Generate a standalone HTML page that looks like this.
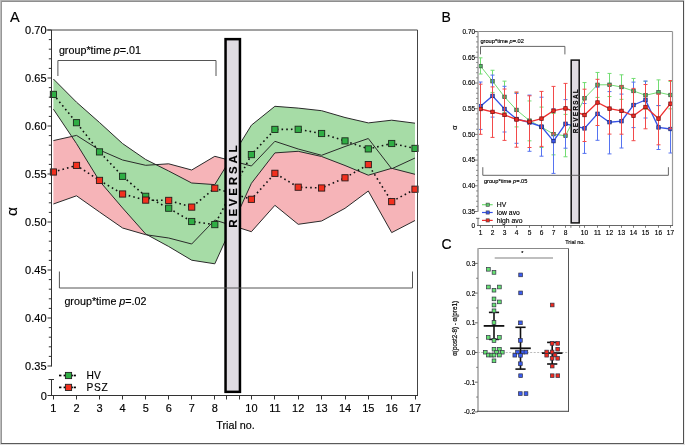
<!DOCTYPE html>
<html><head><meta charset="utf-8"><style>
html,body{margin:0;padding:0;background:#fff;width:685px;height:445px;overflow:hidden}
svg{display:block;filter:blur(0.3px)}
text{font-family:"Liberation Sans",sans-serif;stroke:#000;stroke-width:0.15px}
</style></head><body>
<svg width="685" height="445" viewBox="0 0 685 445">
<rect width="685" height="445" fill="#fff"/>
<polygon points="53.40,140.60 76.50,135.40 99.50,150.00 122.60,160.00 145.70,165.30 168.70,163.80 191.70,170.00 214.80,156.30 251.40,166.00 274.90,141.30 298.20,149.00 321.60,155.30 345.00,146.50 368.30,138.50 391.70,168.80 415.00,158.00 415.00,220.50 391.70,232.60 368.30,191.00 345.00,208.30 321.60,221.00 298.20,224.30 274.90,205.30 251.40,231.70 214.80,220.00 191.70,244.00 168.70,238.00 145.70,234.70 122.60,228.00 99.50,212.00 76.50,195.80 53.40,204.00" fill="#f6b4b8" stroke="none"/>
<polygon points="53.40,79.00 76.50,102.20 99.50,122.50 122.60,143.60 145.70,159.50 168.70,171.00 191.70,183.00 214.80,184.60 251.40,125.20 274.90,106.30 298.20,108.10 321.60,110.70 345.00,117.50 368.30,122.90 391.70,120.20 415.00,123.20 415.00,174.30 391.70,168.30 368.30,175.20 345.00,165.50 321.60,156.50 298.20,151.30 274.90,152.90 251.40,183.30 214.80,263.80 191.70,260.20 168.70,246.50 145.70,234.00 122.60,208.00 99.50,181.00 76.50,143.60 53.40,109.20" fill="#a6dca6" stroke="none"/>
<polyline points="53.40,140.60 76.50,135.40 99.50,150.00 122.60,160.00 145.70,165.30 168.70,163.80 191.70,170.00 214.80,156.30 251.40,166.00 274.90,141.30 298.20,149.00 321.60,155.30 345.00,146.50 368.30,138.50 391.70,168.80 415.00,158.00" fill="none" stroke="#2a2a2a" stroke-width="1"/>
<polyline points="53.40,204.00 76.50,195.80 99.50,212.00 122.60,228.00 145.70,234.70 168.70,238.00 191.70,244.00 214.80,220.00 251.40,231.70 274.90,205.30 298.20,224.30 321.60,221.00 345.00,208.30 368.30,191.00 391.70,232.60 415.00,220.50" fill="none" stroke="#2a2a2a" stroke-width="1"/>
<polyline points="53.40,79.00 76.50,102.20 99.50,122.50 122.60,143.60 145.70,159.50 168.70,171.00 191.70,183.00 214.80,184.60 251.40,125.20 274.90,106.30 298.20,108.10 321.60,110.70 345.00,117.50 368.30,122.90 391.70,120.20 415.00,123.20" fill="none" stroke="#2a2a2a" stroke-width="1"/>
<polyline points="53.40,109.20 76.50,143.60 99.50,181.00 122.60,208.00 145.70,234.00 168.70,246.50 191.70,260.20 214.80,263.80 251.40,183.30 274.90,152.90 298.20,151.30 321.60,156.50 345.00,165.50 368.30,175.20 391.70,168.30 415.00,174.30" fill="none" stroke="#2a2a2a" stroke-width="1"/>
<polyline points="53.40,94.40 76.50,122.70 99.50,151.90 122.60,176.30 145.70,196.30 168.70,208.20 191.70,221.50 214.80,224.60 251.40,154.60 274.90,129.40 298.20,129.30 321.60,133.50 345.00,140.90 368.30,148.90 391.70,143.50 415.00,148.40" fill="none" stroke="#111" stroke-width="1.6" stroke-dasharray="1.6 3.1"/>
<polyline points="53.40,172.00 76.50,165.40 99.50,180.40 122.60,194.00 145.70,200.10 168.70,200.40 191.70,207.10 214.80,188.20 251.40,199.30 274.90,173.30 298.20,187.20 321.60,188.00 345.00,177.80 368.30,164.60 391.70,201.60 415.00,189.20" fill="none" stroke="#111" stroke-width="1.6" stroke-dasharray="1.6 3.1"/>
<rect x="50.30" y="91.30" width="6.2" height="6.2" fill="#2fae44" stroke="#1c2a1c" stroke-width="0.9"/>
<rect x="73.40" y="119.60" width="6.2" height="6.2" fill="#2fae44" stroke="#1c2a1c" stroke-width="0.9"/>
<rect x="96.40" y="148.80" width="6.2" height="6.2" fill="#2fae44" stroke="#1c2a1c" stroke-width="0.9"/>
<rect x="119.50" y="173.20" width="6.2" height="6.2" fill="#2fae44" stroke="#1c2a1c" stroke-width="0.9"/>
<rect x="142.60" y="193.20" width="6.2" height="6.2" fill="#2fae44" stroke="#1c2a1c" stroke-width="0.9"/>
<rect x="165.60" y="205.10" width="6.2" height="6.2" fill="#2fae44" stroke="#1c2a1c" stroke-width="0.9"/>
<rect x="188.60" y="218.40" width="6.2" height="6.2" fill="#2fae44" stroke="#1c2a1c" stroke-width="0.9"/>
<rect x="211.70" y="221.50" width="6.2" height="6.2" fill="#2fae44" stroke="#1c2a1c" stroke-width="0.9"/>
<rect x="248.30" y="151.50" width="6.2" height="6.2" fill="#2fae44" stroke="#1c2a1c" stroke-width="0.9"/>
<rect x="271.80" y="126.30" width="6.2" height="6.2" fill="#2fae44" stroke="#1c2a1c" stroke-width="0.9"/>
<rect x="295.10" y="126.20" width="6.2" height="6.2" fill="#2fae44" stroke="#1c2a1c" stroke-width="0.9"/>
<rect x="318.50" y="130.40" width="6.2" height="6.2" fill="#2fae44" stroke="#1c2a1c" stroke-width="0.9"/>
<rect x="341.90" y="137.80" width="6.2" height="6.2" fill="#2fae44" stroke="#1c2a1c" stroke-width="0.9"/>
<rect x="365.20" y="145.80" width="6.2" height="6.2" fill="#2fae44" stroke="#1c2a1c" stroke-width="0.9"/>
<rect x="388.60" y="140.40" width="6.2" height="6.2" fill="#2fae44" stroke="#1c2a1c" stroke-width="0.9"/>
<rect x="411.90" y="145.30" width="6.2" height="6.2" fill="#2fae44" stroke="#1c2a1c" stroke-width="0.9"/>
<rect x="50.30" y="168.90" width="6.2" height="6.2" fill="#f2301e" stroke="#2a1a1a" stroke-width="0.9"/>
<rect x="73.40" y="162.30" width="6.2" height="6.2" fill="#f2301e" stroke="#2a1a1a" stroke-width="0.9"/>
<rect x="96.40" y="177.30" width="6.2" height="6.2" fill="#f2301e" stroke="#2a1a1a" stroke-width="0.9"/>
<rect x="119.50" y="190.90" width="6.2" height="6.2" fill="#f2301e" stroke="#2a1a1a" stroke-width="0.9"/>
<rect x="142.60" y="197.00" width="6.2" height="6.2" fill="#f2301e" stroke="#2a1a1a" stroke-width="0.9"/>
<rect x="165.60" y="197.30" width="6.2" height="6.2" fill="#f2301e" stroke="#2a1a1a" stroke-width="0.9"/>
<rect x="188.60" y="204.00" width="6.2" height="6.2" fill="#f2301e" stroke="#2a1a1a" stroke-width="0.9"/>
<rect x="211.70" y="185.10" width="6.2" height="6.2" fill="#f2301e" stroke="#2a1a1a" stroke-width="0.9"/>
<rect x="248.30" y="196.20" width="6.2" height="6.2" fill="#f2301e" stroke="#2a1a1a" stroke-width="0.9"/>
<rect x="271.80" y="170.20" width="6.2" height="6.2" fill="#f2301e" stroke="#2a1a1a" stroke-width="0.9"/>
<rect x="295.10" y="184.10" width="6.2" height="6.2" fill="#f2301e" stroke="#2a1a1a" stroke-width="0.9"/>
<rect x="318.50" y="184.90" width="6.2" height="6.2" fill="#f2301e" stroke="#2a1a1a" stroke-width="0.9"/>
<rect x="341.90" y="174.70" width="6.2" height="6.2" fill="#f2301e" stroke="#2a1a1a" stroke-width="0.9"/>
<rect x="365.20" y="161.50" width="6.2" height="6.2" fill="#f2301e" stroke="#2a1a1a" stroke-width="0.9"/>
<rect x="388.60" y="198.50" width="6.2" height="6.2" fill="#f2301e" stroke="#2a1a1a" stroke-width="0.9"/>
<rect x="411.90" y="186.10" width="6.2" height="6.2" fill="#f2301e" stroke="#2a1a1a" stroke-width="0.9"/>
<rect x="225.55" y="39.15" width="14.4" height="352.7" fill="#e0dce2" stroke="#000" stroke-width="2.5"/>
<text font-family="Liberation Sans, sans-serif" font-size="11.5" font-weight="bold" letter-spacing="2.8" stroke="none" transform="translate(237.4,185.2) rotate(-90)" text-anchor="middle">REVERSAL</text>
<line x1="46.5" y1="30" x2="417.5" y2="30" stroke="#444" stroke-width="1"/>
<line x1="417.5" y1="30" x2="417.5" y2="396" stroke="#444" stroke-width="1"/>
<line x1="51.5" y1="30" x2="51.5" y2="366.5" stroke="#333" stroke-width="1"/>
<line x1="51.5" y1="379" x2="51.5" y2="396" stroke="#333" stroke-width="1"/>
<line x1="48.5" y1="379.5" x2="54" y2="379.5" stroke="#333" stroke-width="1"/>
<line x1="51" y1="395.5" x2="418" y2="395.5" stroke="#333" stroke-width="1"/>
<line x1="47.5" y1="30.00" x2="51.5" y2="30.00" stroke="#333" stroke-width="1"/>
<text transform="translate(46.5,33.90) scale(1,1.07)" font-family="Liberation Sans, sans-serif" font-size="11" text-anchor="end" fill="#000">0.70</text>
<line x1="48.8" y1="39.60" x2="51.5" y2="39.60" stroke="#333" stroke-width="1"/>
<line x1="48.8" y1="49.20" x2="51.5" y2="49.20" stroke="#333" stroke-width="1"/>
<line x1="48.8" y1="58.80" x2="51.5" y2="58.80" stroke="#333" stroke-width="1"/>
<line x1="48.8" y1="68.40" x2="51.5" y2="68.40" stroke="#333" stroke-width="1"/>
<line x1="47.5" y1="78.00" x2="51.5" y2="78.00" stroke="#333" stroke-width="1"/>
<text transform="translate(46.5,81.90) scale(1,1.07)" font-family="Liberation Sans, sans-serif" font-size="11" text-anchor="end" fill="#000">0.65</text>
<line x1="48.8" y1="87.60" x2="51.5" y2="87.60" stroke="#333" stroke-width="1"/>
<line x1="48.8" y1="97.20" x2="51.5" y2="97.20" stroke="#333" stroke-width="1"/>
<line x1="48.8" y1="106.80" x2="51.5" y2="106.80" stroke="#333" stroke-width="1"/>
<line x1="48.8" y1="116.40" x2="51.5" y2="116.40" stroke="#333" stroke-width="1"/>
<line x1="47.5" y1="126.00" x2="51.5" y2="126.00" stroke="#333" stroke-width="1"/>
<text transform="translate(46.5,129.90) scale(1,1.07)" font-family="Liberation Sans, sans-serif" font-size="11" text-anchor="end" fill="#000">0.60</text>
<line x1="48.8" y1="135.60" x2="51.5" y2="135.60" stroke="#333" stroke-width="1"/>
<line x1="48.8" y1="145.20" x2="51.5" y2="145.20" stroke="#333" stroke-width="1"/>
<line x1="48.8" y1="154.80" x2="51.5" y2="154.80" stroke="#333" stroke-width="1"/>
<line x1="48.8" y1="164.40" x2="51.5" y2="164.40" stroke="#333" stroke-width="1"/>
<line x1="47.5" y1="174.00" x2="51.5" y2="174.00" stroke="#333" stroke-width="1"/>
<text transform="translate(46.5,177.90) scale(1,1.07)" font-family="Liberation Sans, sans-serif" font-size="11" text-anchor="end" fill="#000">0.55</text>
<line x1="48.8" y1="183.60" x2="51.5" y2="183.60" stroke="#333" stroke-width="1"/>
<line x1="48.8" y1="193.20" x2="51.5" y2="193.20" stroke="#333" stroke-width="1"/>
<line x1="48.8" y1="202.80" x2="51.5" y2="202.80" stroke="#333" stroke-width="1"/>
<line x1="48.8" y1="212.40" x2="51.5" y2="212.40" stroke="#333" stroke-width="1"/>
<line x1="47.5" y1="222.00" x2="51.5" y2="222.00" stroke="#333" stroke-width="1"/>
<text transform="translate(46.5,225.90) scale(1,1.07)" font-family="Liberation Sans, sans-serif" font-size="11" text-anchor="end" fill="#000">0.50</text>
<line x1="48.8" y1="231.60" x2="51.5" y2="231.60" stroke="#333" stroke-width="1"/>
<line x1="48.8" y1="241.20" x2="51.5" y2="241.20" stroke="#333" stroke-width="1"/>
<line x1="48.8" y1="250.80" x2="51.5" y2="250.80" stroke="#333" stroke-width="1"/>
<line x1="48.8" y1="260.40" x2="51.5" y2="260.40" stroke="#333" stroke-width="1"/>
<line x1="47.5" y1="270.00" x2="51.5" y2="270.00" stroke="#333" stroke-width="1"/>
<text transform="translate(46.5,273.90) scale(1,1.07)" font-family="Liberation Sans, sans-serif" font-size="11" text-anchor="end" fill="#000">0.45</text>
<line x1="48.8" y1="279.60" x2="51.5" y2="279.60" stroke="#333" stroke-width="1"/>
<line x1="48.8" y1="289.20" x2="51.5" y2="289.20" stroke="#333" stroke-width="1"/>
<line x1="48.8" y1="298.80" x2="51.5" y2="298.80" stroke="#333" stroke-width="1"/>
<line x1="48.8" y1="308.40" x2="51.5" y2="308.40" stroke="#333" stroke-width="1"/>
<line x1="47.5" y1="318.00" x2="51.5" y2="318.00" stroke="#333" stroke-width="1"/>
<text transform="translate(46.5,321.90) scale(1,1.07)" font-family="Liberation Sans, sans-serif" font-size="11" text-anchor="end" fill="#000">0.40</text>
<line x1="48.8" y1="327.60" x2="51.5" y2="327.60" stroke="#333" stroke-width="1"/>
<line x1="48.8" y1="337.20" x2="51.5" y2="337.20" stroke="#333" stroke-width="1"/>
<line x1="48.8" y1="346.80" x2="51.5" y2="346.80" stroke="#333" stroke-width="1"/>
<line x1="48.8" y1="356.40" x2="51.5" y2="356.40" stroke="#333" stroke-width="1"/>
<line x1="47.5" y1="366.00" x2="51.5" y2="366.00" stroke="#333" stroke-width="1"/>
<text transform="translate(46.5,369.90) scale(1,1.07)" font-family="Liberation Sans, sans-serif" font-size="11" text-anchor="end" fill="#000">0.35</text>
<text transform="translate(46.8,399.90) scale(1,1.07)" font-family="Liberation Sans, sans-serif" font-size="11" text-anchor="end" fill="#000">0</text>
<line x1="47.5" y1="395.5" x2="51.5" y2="395.5" stroke="#333" stroke-width="1"/>
<line x1="53.50" y1="395.5" x2="53.50" y2="399.5" stroke="#333" stroke-width="1"/>
<text transform="translate(53.40,411.6) scale(1,1.07)" font-family="Liberation Sans, sans-serif" font-size="11" text-anchor="middle" fill="#000">1</text>
<line x1="76.50" y1="395.5" x2="76.50" y2="399.5" stroke="#333" stroke-width="1"/>
<text transform="translate(76.50,411.6) scale(1,1.07)" font-family="Liberation Sans, sans-serif" font-size="11" text-anchor="middle" fill="#000">2</text>
<line x1="99.50" y1="395.5" x2="99.50" y2="399.5" stroke="#333" stroke-width="1"/>
<text transform="translate(99.50,411.6) scale(1,1.07)" font-family="Liberation Sans, sans-serif" font-size="11" text-anchor="middle" fill="#000">3</text>
<line x1="122.50" y1="395.5" x2="122.50" y2="399.5" stroke="#333" stroke-width="1"/>
<text transform="translate(122.60,411.6) scale(1,1.07)" font-family="Liberation Sans, sans-serif" font-size="11" text-anchor="middle" fill="#000">4</text>
<line x1="145.50" y1="395.5" x2="145.50" y2="399.5" stroke="#333" stroke-width="1"/>
<text transform="translate(145.70,411.6) scale(1,1.07)" font-family="Liberation Sans, sans-serif" font-size="11" text-anchor="middle" fill="#000">5</text>
<line x1="168.50" y1="395.5" x2="168.50" y2="399.5" stroke="#333" stroke-width="1"/>
<text transform="translate(168.70,411.6) scale(1,1.07)" font-family="Liberation Sans, sans-serif" font-size="11" text-anchor="middle" fill="#000">6</text>
<line x1="191.50" y1="395.5" x2="191.50" y2="399.5" stroke="#333" stroke-width="1"/>
<text transform="translate(191.70,411.6) scale(1,1.07)" font-family="Liberation Sans, sans-serif" font-size="11" text-anchor="middle" fill="#000">7</text>
<line x1="214.50" y1="395.5" x2="214.50" y2="399.5" stroke="#333" stroke-width="1"/>
<text transform="translate(214.80,411.6) scale(1,1.07)" font-family="Liberation Sans, sans-serif" font-size="11" text-anchor="middle" fill="#000">8</text>
<line x1="251.50" y1="395.5" x2="251.50" y2="399.5" stroke="#333" stroke-width="1"/>
<text transform="translate(251.40,411.6) scale(1,1.07)" font-family="Liberation Sans, sans-serif" font-size="11" text-anchor="middle" fill="#000">10</text>
<line x1="274.50" y1="395.5" x2="274.50" y2="399.5" stroke="#333" stroke-width="1"/>
<text transform="translate(274.90,411.6) scale(1,1.07)" font-family="Liberation Sans, sans-serif" font-size="11" text-anchor="middle" fill="#000">11</text>
<line x1="298.50" y1="395.5" x2="298.50" y2="399.5" stroke="#333" stroke-width="1"/>
<text transform="translate(298.20,411.6) scale(1,1.07)" font-family="Liberation Sans, sans-serif" font-size="11" text-anchor="middle" fill="#000">12</text>
<line x1="321.50" y1="395.5" x2="321.50" y2="399.5" stroke="#333" stroke-width="1"/>
<text transform="translate(321.60,411.6) scale(1,1.07)" font-family="Liberation Sans, sans-serif" font-size="11" text-anchor="middle" fill="#000">13</text>
<line x1="345.50" y1="395.5" x2="345.50" y2="399.5" stroke="#333" stroke-width="1"/>
<text transform="translate(345.00,411.6) scale(1,1.07)" font-family="Liberation Sans, sans-serif" font-size="11" text-anchor="middle" fill="#000">14</text>
<line x1="368.50" y1="395.5" x2="368.50" y2="399.5" stroke="#333" stroke-width="1"/>
<text transform="translate(368.30,411.6) scale(1,1.07)" font-family="Liberation Sans, sans-serif" font-size="11" text-anchor="middle" fill="#000">15</text>
<line x1="391.50" y1="395.5" x2="391.50" y2="399.5" stroke="#333" stroke-width="1"/>
<text transform="translate(391.70,411.6) scale(1,1.07)" font-family="Liberation Sans, sans-serif" font-size="11" text-anchor="middle" fill="#000">16</text>
<line x1="415.50" y1="395.5" x2="415.50" y2="399.5" stroke="#333" stroke-width="1"/>
<text transform="translate(415.00,411.6) scale(1,1.07)" font-family="Liberation Sans, sans-serif" font-size="11" text-anchor="middle" fill="#000">17</text>
<line x1="226.5" y1="395.5" x2="226.5" y2="399.5" stroke="#333" stroke-width="1"/>
<line x1="239.5" y1="395.5" x2="239.5" y2="399.5" stroke="#333" stroke-width="1"/>
<text transform="translate(216.2,428.8) scale(1,1.07)" font-family="Liberation Sans, sans-serif" font-size="10.8" fill="#000">Trial no.</text>
<text font-family="Liberation Sans, sans-serif" font-size="15.5" transform="translate(17.4,211.4) rotate(-90)" text-anchor="middle" fill="#000">α</text>
<text transform="translate(9.9,22.3) scale(1,1.07)" font-family="Liberation Sans, sans-serif" font-size="14.5" fill="#000">A</text>
<polyline points="57.9,76 57.9,60.5 216,60.5 216,76" fill="none" stroke="#555" stroke-width="1"/>
<text transform="translate(58.9,53.7) scale(1,1.07)" font-family="Liberation Sans, sans-serif" font-size="10.75" fill="#000">group*time <tspan font-style="italic">p</tspan>=.01</text>
<polyline points="59.4,271.5 59.4,288 412.5,288 412.5,271.5" fill="none" stroke="#555" stroke-width="1"/>
<text transform="translate(64.4,305.1) scale(1,1.07)" font-family="Liberation Sans, sans-serif" font-size="10.75" fill="#000">group*time <tspan font-style="italic">p</tspan>=.02</text>
<rect x="59" y="374.65" width="2.40" height="1.7" fill="#000"/>
<rect x="63.6" y="374.65" width="1.90" height="1.7" fill="#000"/>
<rect x="71.5" y="374.65" width="1.40" height="1.7" fill="#000"/>
<rect x="73.7" y="374.65" width="2.20" height="1.7" fill="#000"/>
<rect x="65.40" y="372.40" width="6.2" height="6.2" fill="#2fae44" stroke="#222" stroke-width="0.9"/>
<text transform="translate(86.6,379.00) scale(1,1.07)" font-family="Liberation Sans, sans-serif" font-size="10.2" fill="#000">HV</text>
<rect x="59" y="386.55" width="2.40" height="1.7" fill="#000"/>
<rect x="63.6" y="386.55" width="1.90" height="1.7" fill="#000"/>
<rect x="71.5" y="386.55" width="1.40" height="1.7" fill="#000"/>
<rect x="73.7" y="386.55" width="2.20" height="1.7" fill="#000"/>
<rect x="65.40" y="384.30" width="6.2" height="6.2" fill="#f2301e" stroke="#222" stroke-width="0.9"/>
<text transform="translate(86.6,390.90) scale(1,1.07)" font-family="Liberation Sans, sans-serif" font-size="10.2" letter-spacing="0.7" fill="#000">PSZ</text>
<line x1="480.50" y1="57.84" x2="480.50" y2="74.00" stroke="#72dc72" stroke-width="1"/>
<line x1="478.50" y1="57.84" x2="482.50" y2="57.84" stroke="#72dc72" stroke-width="1"/>
<line x1="478.50" y1="74.00" x2="482.50" y2="74.00" stroke="#72dc72" stroke-width="1"/>
<line x1="492.50" y1="70.26" x2="492.50" y2="92.42" stroke="#72dc72" stroke-width="1"/>
<line x1="490.50" y1="70.26" x2="494.50" y2="70.26" stroke="#72dc72" stroke-width="1"/>
<line x1="490.50" y1="92.42" x2="494.50" y2="92.42" stroke="#72dc72" stroke-width="1"/>
<line x1="504.50" y1="81.13" x2="504.50" y2="112.45" stroke="#72dc72" stroke-width="1"/>
<line x1="502.50" y1="81.13" x2="506.50" y2="81.13" stroke="#72dc72" stroke-width="1"/>
<line x1="502.50" y1="112.45" x2="506.50" y2="112.45" stroke="#72dc72" stroke-width="1"/>
<line x1="516.50" y1="92.42" x2="516.50" y2="126.90" stroke="#72dc72" stroke-width="1"/>
<line x1="514.50" y1="92.42" x2="518.50" y2="92.42" stroke="#72dc72" stroke-width="1"/>
<line x1="514.50" y1="126.90" x2="518.50" y2="126.90" stroke="#72dc72" stroke-width="1"/>
<line x1="529.50" y1="100.94" x2="529.50" y2="140.82" stroke="#72dc72" stroke-width="1"/>
<line x1="527.50" y1="100.94" x2="531.50" y2="100.94" stroke="#72dc72" stroke-width="1"/>
<line x1="527.50" y1="140.82" x2="531.50" y2="140.82" stroke="#72dc72" stroke-width="1"/>
<line x1="541.50" y1="107.09" x2="541.50" y2="147.52" stroke="#72dc72" stroke-width="1"/>
<line x1="539.50" y1="107.09" x2="543.50" y2="107.09" stroke="#72dc72" stroke-width="1"/>
<line x1="539.50" y1="147.52" x2="543.50" y2="147.52" stroke="#72dc72" stroke-width="1"/>
<line x1="553.50" y1="113.52" x2="553.50" y2="154.85" stroke="#72dc72" stroke-width="1"/>
<line x1="551.50" y1="113.52" x2="555.50" y2="113.52" stroke="#72dc72" stroke-width="1"/>
<line x1="551.50" y1="154.85" x2="555.50" y2="154.85" stroke="#72dc72" stroke-width="1"/>
<line x1="565.50" y1="114.38" x2="565.50" y2="156.78" stroke="#72dc72" stroke-width="1"/>
<line x1="563.50" y1="114.38" x2="567.50" y2="114.38" stroke="#72dc72" stroke-width="1"/>
<line x1="563.50" y1="156.78" x2="567.50" y2="156.78" stroke="#72dc72" stroke-width="1"/>
<line x1="584.50" y1="82.57" x2="584.50" y2="113.68" stroke="#72dc72" stroke-width="1"/>
<line x1="582.50" y1="82.57" x2="586.50" y2="82.57" stroke="#72dc72" stroke-width="1"/>
<line x1="582.50" y1="113.68" x2="586.50" y2="113.68" stroke="#72dc72" stroke-width="1"/>
<line x1="597.50" y1="72.45" x2="597.50" y2="97.40" stroke="#72dc72" stroke-width="1"/>
<line x1="595.50" y1="72.45" x2="599.50" y2="72.45" stroke="#72dc72" stroke-width="1"/>
<line x1="595.50" y1="97.40" x2="599.50" y2="97.40" stroke="#72dc72" stroke-width="1"/>
<line x1="609.50" y1="73.42" x2="609.50" y2="96.55" stroke="#72dc72" stroke-width="1"/>
<line x1="607.50" y1="73.42" x2="611.50" y2="73.42" stroke="#72dc72" stroke-width="1"/>
<line x1="607.50" y1="96.55" x2="611.50" y2="96.55" stroke="#72dc72" stroke-width="1"/>
<line x1="621.50" y1="74.81" x2="621.50" y2="99.33" stroke="#72dc72" stroke-width="1"/>
<line x1="619.50" y1="74.81" x2="623.50" y2="74.81" stroke="#72dc72" stroke-width="1"/>
<line x1="619.50" y1="99.33" x2="623.50" y2="99.33" stroke="#72dc72" stroke-width="1"/>
<line x1="633.50" y1="78.45" x2="633.50" y2="104.15" stroke="#72dc72" stroke-width="1"/>
<line x1="631.50" y1="78.45" x2="635.50" y2="78.45" stroke="#72dc72" stroke-width="1"/>
<line x1="631.50" y1="104.15" x2="635.50" y2="104.15" stroke="#72dc72" stroke-width="1"/>
<line x1="645.50" y1="81.34" x2="645.50" y2="109.34" stroke="#72dc72" stroke-width="1"/>
<line x1="643.50" y1="81.34" x2="647.50" y2="81.34" stroke="#72dc72" stroke-width="1"/>
<line x1="643.50" y1="109.34" x2="647.50" y2="109.34" stroke="#72dc72" stroke-width="1"/>
<line x1="658.50" y1="79.89" x2="658.50" y2="105.65" stroke="#72dc72" stroke-width="1"/>
<line x1="656.50" y1="79.89" x2="660.50" y2="79.89" stroke="#72dc72" stroke-width="1"/>
<line x1="656.50" y1="105.65" x2="660.50" y2="105.65" stroke="#72dc72" stroke-width="1"/>
<line x1="670.50" y1="81.50" x2="670.50" y2="108.86" stroke="#72dc72" stroke-width="1"/>
<line x1="668.50" y1="81.50" x2="672.50" y2="81.50" stroke="#72dc72" stroke-width="1"/>
<line x1="668.50" y1="108.86" x2="672.50" y2="108.86" stroke="#72dc72" stroke-width="1"/>
<polyline points="480.50,66.08 492.50,81.23 504.50,96.87 516.50,109.93 529.50,120.64 541.50,127.01 553.50,134.13 565.50,135.79" fill="none" stroke="#72dc72" stroke-width="1"/>
<polyline points="565.50,135.79 584.50,98.31" fill="none" stroke="#72dc72" stroke-width="1"/>
<polyline points="584.50,98.31 597.50,84.82 609.50,84.77 621.50,87.02 633.50,90.98 645.50,95.26 658.50,92.37 670.50,94.99" fill="none" stroke="#72dc72" stroke-width="1"/>
<rect x="478.75" y="64.33" width="3.5" height="3.5" fill="#52b862" stroke="#3a4a3e" stroke-width="0.7"/>
<rect x="490.75" y="79.48" width="3.5" height="3.5" fill="#52b862" stroke="#3a4a3e" stroke-width="0.7"/>
<rect x="502.75" y="95.12" width="3.5" height="3.5" fill="#52b862" stroke="#3a4a3e" stroke-width="0.7"/>
<rect x="514.75" y="108.18" width="3.5" height="3.5" fill="#52b862" stroke="#3a4a3e" stroke-width="0.7"/>
<rect x="527.75" y="118.89" width="3.5" height="3.5" fill="#52b862" stroke="#3a4a3e" stroke-width="0.7"/>
<rect x="539.75" y="125.26" width="3.5" height="3.5" fill="#52b862" stroke="#3a4a3e" stroke-width="0.7"/>
<rect x="551.75" y="132.38" width="3.5" height="3.5" fill="#52b862" stroke="#3a4a3e" stroke-width="0.7"/>
<rect x="563.75" y="134.04" width="3.5" height="3.5" fill="#52b862" stroke="#3a4a3e" stroke-width="0.7"/>
<rect x="582.75" y="96.56" width="3.5" height="3.5" fill="#52b862" stroke="#3a4a3e" stroke-width="0.7"/>
<rect x="595.75" y="83.07" width="3.5" height="3.5" fill="#52b862" stroke="#3a4a3e" stroke-width="0.7"/>
<rect x="607.75" y="83.02" width="3.5" height="3.5" fill="#52b862" stroke="#3a4a3e" stroke-width="0.7"/>
<rect x="619.75" y="85.27" width="3.5" height="3.5" fill="#52b862" stroke="#3a4a3e" stroke-width="0.7"/>
<rect x="631.75" y="89.23" width="3.5" height="3.5" fill="#52b862" stroke="#3a4a3e" stroke-width="0.7"/>
<rect x="643.75" y="93.51" width="3.5" height="3.5" fill="#52b862" stroke="#3a4a3e" stroke-width="0.7"/>
<rect x="656.75" y="90.62" width="3.5" height="3.5" fill="#52b862" stroke="#3a4a3e" stroke-width="0.7"/>
<rect x="668.75" y="93.24" width="3.5" height="3.5" fill="#52b862" stroke="#3a4a3e" stroke-width="0.7"/>
<line x1="480.50" y1="82.00" x2="480.50" y2="129.40" stroke="#5673f0" stroke-width="1"/>
<line x1="478.50" y1="82.00" x2="482.50" y2="82.00" stroke="#5673f0" stroke-width="1"/>
<line x1="478.50" y1="129.40" x2="482.50" y2="129.40" stroke="#5673f0" stroke-width="1"/>
<line x1="492.50" y1="75.10" x2="492.50" y2="117.10" stroke="#5673f0" stroke-width="1"/>
<line x1="490.50" y1="75.10" x2="494.50" y2="75.10" stroke="#5673f0" stroke-width="1"/>
<line x1="490.50" y1="117.10" x2="494.50" y2="117.10" stroke="#5673f0" stroke-width="1"/>
<line x1="504.50" y1="86.30" x2="504.50" y2="132.00" stroke="#5673f0" stroke-width="1"/>
<line x1="502.50" y1="86.30" x2="506.50" y2="86.30" stroke="#5673f0" stroke-width="1"/>
<line x1="502.50" y1="132.00" x2="506.50" y2="132.00" stroke="#5673f0" stroke-width="1"/>
<line x1="516.50" y1="93.50" x2="516.50" y2="143.30" stroke="#5673f0" stroke-width="1"/>
<line x1="514.50" y1="93.50" x2="518.50" y2="93.50" stroke="#5673f0" stroke-width="1"/>
<line x1="514.50" y1="143.30" x2="518.50" y2="143.30" stroke="#5673f0" stroke-width="1"/>
<line x1="529.50" y1="95.10" x2="529.50" y2="151.30" stroke="#5673f0" stroke-width="1"/>
<line x1="527.50" y1="95.10" x2="531.50" y2="95.10" stroke="#5673f0" stroke-width="1"/>
<line x1="527.50" y1="151.30" x2="531.50" y2="151.30" stroke="#5673f0" stroke-width="1"/>
<line x1="541.50" y1="97.20" x2="541.50" y2="156.20" stroke="#5673f0" stroke-width="1"/>
<line x1="539.50" y1="97.20" x2="543.50" y2="97.20" stroke="#5673f0" stroke-width="1"/>
<line x1="539.50" y1="156.20" x2="543.50" y2="156.20" stroke="#5673f0" stroke-width="1"/>
<line x1="553.50" y1="108.90" x2="553.50" y2="173.40" stroke="#5673f0" stroke-width="1"/>
<line x1="551.50" y1="108.90" x2="555.50" y2="108.90" stroke="#5673f0" stroke-width="1"/>
<line x1="551.50" y1="173.40" x2="555.50" y2="173.40" stroke="#5673f0" stroke-width="1"/>
<line x1="565.50" y1="99.60" x2="565.50" y2="148.20" stroke="#5673f0" stroke-width="1"/>
<line x1="563.50" y1="99.60" x2="567.50" y2="99.60" stroke="#5673f0" stroke-width="1"/>
<line x1="563.50" y1="148.20" x2="567.50" y2="148.20" stroke="#5673f0" stroke-width="1"/>
<line x1="584.50" y1="103.50" x2="584.50" y2="153.40" stroke="#5673f0" stroke-width="1"/>
<line x1="582.50" y1="103.50" x2="586.50" y2="103.50" stroke="#5673f0" stroke-width="1"/>
<line x1="582.50" y1="153.40" x2="586.50" y2="153.40" stroke="#5673f0" stroke-width="1"/>
<line x1="597.50" y1="87.30" x2="597.50" y2="140.30" stroke="#5673f0" stroke-width="1"/>
<line x1="595.50" y1="87.30" x2="599.50" y2="87.30" stroke="#5673f0" stroke-width="1"/>
<line x1="595.50" y1="140.30" x2="599.50" y2="140.30" stroke="#5673f0" stroke-width="1"/>
<line x1="609.50" y1="91.60" x2="609.50" y2="153.90" stroke="#5673f0" stroke-width="1"/>
<line x1="607.50" y1="91.60" x2="611.50" y2="91.60" stroke="#5673f0" stroke-width="1"/>
<line x1="607.50" y1="153.90" x2="611.50" y2="153.90" stroke="#5673f0" stroke-width="1"/>
<line x1="621.50" y1="94.10" x2="621.50" y2="148.00" stroke="#5673f0" stroke-width="1"/>
<line x1="619.50" y1="94.10" x2="623.50" y2="94.10" stroke="#5673f0" stroke-width="1"/>
<line x1="619.50" y1="148.00" x2="623.50" y2="148.00" stroke="#5673f0" stroke-width="1"/>
<line x1="633.50" y1="82.10" x2="633.50" y2="127.60" stroke="#5673f0" stroke-width="1"/>
<line x1="631.50" y1="82.10" x2="635.50" y2="82.10" stroke="#5673f0" stroke-width="1"/>
<line x1="631.50" y1="127.60" x2="635.50" y2="127.60" stroke="#5673f0" stroke-width="1"/>
<line x1="645.50" y1="81.00" x2="645.50" y2="118.00" stroke="#5673f0" stroke-width="1"/>
<line x1="643.50" y1="81.00" x2="647.50" y2="81.00" stroke="#5673f0" stroke-width="1"/>
<line x1="643.50" y1="118.00" x2="647.50" y2="118.00" stroke="#5673f0" stroke-width="1"/>
<line x1="658.50" y1="105.50" x2="658.50" y2="149.50" stroke="#5673f0" stroke-width="1"/>
<line x1="656.50" y1="105.50" x2="660.50" y2="105.50" stroke="#5673f0" stroke-width="1"/>
<line x1="656.50" y1="149.50" x2="660.50" y2="149.50" stroke="#5673f0" stroke-width="1"/>
<line x1="670.50" y1="104.50" x2="670.50" y2="153.00" stroke="#5673f0" stroke-width="1"/>
<line x1="668.50" y1="104.50" x2="672.50" y2="104.50" stroke="#5673f0" stroke-width="1"/>
<line x1="668.50" y1="153.00" x2="672.50" y2="153.00" stroke="#5673f0" stroke-width="1"/>
<polyline points="480.50,106.20 492.50,95.90 504.50,109.00 516.50,119.00 529.50,122.50 541.50,126.60 553.50,141.10 565.50,123.80" fill="none" stroke="#3552e6" stroke-width="1.35"/>
<polyline points="565.50,123.80 584.50,128.40" fill="none" stroke="#3552e6" stroke-width="1.35"/>
<polyline points="584.50,128.40 597.50,113.80 609.50,122.20 621.50,121.20 633.50,105.00 645.50,100.00 658.50,127.40 670.50,129.00" fill="none" stroke="#3552e6" stroke-width="1.35"/>
<rect x="478.75" y="104.45" width="3.5" height="3.5" fill="#3a55e8" stroke="#1a2466" stroke-width="0.7"/>
<rect x="490.75" y="94.15" width="3.5" height="3.5" fill="#3a55e8" stroke="#1a2466" stroke-width="0.7"/>
<rect x="502.75" y="107.25" width="3.5" height="3.5" fill="#3a55e8" stroke="#1a2466" stroke-width="0.7"/>
<rect x="514.75" y="117.25" width="3.5" height="3.5" fill="#3a55e8" stroke="#1a2466" stroke-width="0.7"/>
<rect x="527.75" y="120.75" width="3.5" height="3.5" fill="#3a55e8" stroke="#1a2466" stroke-width="0.7"/>
<rect x="539.75" y="124.85" width="3.5" height="3.5" fill="#3a55e8" stroke="#1a2466" stroke-width="0.7"/>
<rect x="551.75" y="139.35" width="3.5" height="3.5" fill="#3a55e8" stroke="#1a2466" stroke-width="0.7"/>
<rect x="563.75" y="122.05" width="3.5" height="3.5" fill="#3a55e8" stroke="#1a2466" stroke-width="0.7"/>
<rect x="582.75" y="126.65" width="3.5" height="3.5" fill="#3a55e8" stroke="#1a2466" stroke-width="0.7"/>
<rect x="595.75" y="112.05" width="3.5" height="3.5" fill="#3a55e8" stroke="#1a2466" stroke-width="0.7"/>
<rect x="607.75" y="120.45" width="3.5" height="3.5" fill="#3a55e8" stroke="#1a2466" stroke-width="0.7"/>
<rect x="619.75" y="119.45" width="3.5" height="3.5" fill="#3a55e8" stroke="#1a2466" stroke-width="0.7"/>
<rect x="631.75" y="103.25" width="3.5" height="3.5" fill="#3a55e8" stroke="#1a2466" stroke-width="0.7"/>
<rect x="643.75" y="98.25" width="3.5" height="3.5" fill="#3a55e8" stroke="#1a2466" stroke-width="0.7"/>
<rect x="656.75" y="125.65" width="3.5" height="3.5" fill="#3a55e8" stroke="#1a2466" stroke-width="0.7"/>
<rect x="668.75" y="127.25" width="3.5" height="3.5" fill="#3a55e8" stroke="#1a2466" stroke-width="0.7"/>
<line x1="480.50" y1="84.20" x2="480.50" y2="134.30" stroke="#f24a4a" stroke-width="1"/>
<line x1="478.50" y1="84.20" x2="482.50" y2="84.20" stroke="#f24a4a" stroke-width="1"/>
<line x1="478.50" y1="134.30" x2="482.50" y2="134.30" stroke="#f24a4a" stroke-width="1"/>
<line x1="492.50" y1="86.90" x2="492.50" y2="137.40" stroke="#f24a4a" stroke-width="1"/>
<line x1="490.50" y1="86.90" x2="494.50" y2="86.90" stroke="#f24a4a" stroke-width="1"/>
<line x1="490.50" y1="137.40" x2="494.50" y2="137.40" stroke="#f24a4a" stroke-width="1"/>
<line x1="504.50" y1="89.00" x2="504.50" y2="140.40" stroke="#f24a4a" stroke-width="1"/>
<line x1="502.50" y1="89.00" x2="506.50" y2="89.00" stroke="#f24a4a" stroke-width="1"/>
<line x1="502.50" y1="140.40" x2="506.50" y2="140.40" stroke="#f24a4a" stroke-width="1"/>
<line x1="516.50" y1="92.00" x2="516.50" y2="147.20" stroke="#f24a4a" stroke-width="1"/>
<line x1="514.50" y1="92.00" x2="518.50" y2="92.00" stroke="#f24a4a" stroke-width="1"/>
<line x1="514.50" y1="147.20" x2="518.50" y2="147.20" stroke="#f24a4a" stroke-width="1"/>
<line x1="529.50" y1="95.80" x2="529.50" y2="147.50" stroke="#f24a4a" stroke-width="1"/>
<line x1="527.50" y1="95.80" x2="531.50" y2="95.80" stroke="#f24a4a" stroke-width="1"/>
<line x1="527.50" y1="147.50" x2="531.50" y2="147.50" stroke="#f24a4a" stroke-width="1"/>
<line x1="541.50" y1="91.40" x2="541.50" y2="146.40" stroke="#f24a4a" stroke-width="1"/>
<line x1="539.50" y1="91.40" x2="543.50" y2="91.40" stroke="#f24a4a" stroke-width="1"/>
<line x1="539.50" y1="146.40" x2="543.50" y2="146.40" stroke="#f24a4a" stroke-width="1"/>
<line x1="553.50" y1="86.40" x2="553.50" y2="134.00" stroke="#f24a4a" stroke-width="1"/>
<line x1="551.50" y1="86.40" x2="555.50" y2="86.40" stroke="#f24a4a" stroke-width="1"/>
<line x1="551.50" y1="134.00" x2="555.50" y2="134.00" stroke="#f24a4a" stroke-width="1"/>
<line x1="565.50" y1="83.40" x2="565.50" y2="134.00" stroke="#f24a4a" stroke-width="1"/>
<line x1="563.50" y1="83.40" x2="567.50" y2="83.40" stroke="#f24a4a" stroke-width="1"/>
<line x1="563.50" y1="134.00" x2="567.50" y2="134.00" stroke="#f24a4a" stroke-width="1"/>
<line x1="584.50" y1="89.20" x2="584.50" y2="141.50" stroke="#f24a4a" stroke-width="1"/>
<line x1="582.50" y1="89.20" x2="586.50" y2="89.20" stroke="#f24a4a" stroke-width="1"/>
<line x1="582.50" y1="141.50" x2="586.50" y2="141.50" stroke="#f24a4a" stroke-width="1"/>
<line x1="597.50" y1="79.30" x2="597.50" y2="125.50" stroke="#f24a4a" stroke-width="1"/>
<line x1="595.50" y1="79.30" x2="599.50" y2="79.30" stroke="#f24a4a" stroke-width="1"/>
<line x1="595.50" y1="125.50" x2="599.50" y2="125.50" stroke="#f24a4a" stroke-width="1"/>
<line x1="609.50" y1="84.70" x2="609.50" y2="134.10" stroke="#f24a4a" stroke-width="1"/>
<line x1="607.50" y1="84.70" x2="611.50" y2="84.70" stroke="#f24a4a" stroke-width="1"/>
<line x1="607.50" y1="134.10" x2="611.50" y2="134.10" stroke="#f24a4a" stroke-width="1"/>
<line x1="621.50" y1="86.00" x2="621.50" y2="134.20" stroke="#f24a4a" stroke-width="1"/>
<line x1="619.50" y1="86.00" x2="623.50" y2="86.00" stroke="#f24a4a" stroke-width="1"/>
<line x1="619.50" y1="134.20" x2="623.50" y2="134.20" stroke="#f24a4a" stroke-width="1"/>
<line x1="633.50" y1="88.40" x2="633.50" y2="140.70" stroke="#f24a4a" stroke-width="1"/>
<line x1="631.50" y1="88.40" x2="635.50" y2="88.40" stroke="#f24a4a" stroke-width="1"/>
<line x1="631.50" y1="140.70" x2="635.50" y2="140.70" stroke="#f24a4a" stroke-width="1"/>
<line x1="645.50" y1="84.50" x2="645.50" y2="128.80" stroke="#f24a4a" stroke-width="1"/>
<line x1="643.50" y1="84.50" x2="647.50" y2="84.50" stroke="#f24a4a" stroke-width="1"/>
<line x1="643.50" y1="128.80" x2="647.50" y2="128.80" stroke="#f24a4a" stroke-width="1"/>
<line x1="658.50" y1="94.00" x2="658.50" y2="144.80" stroke="#f24a4a" stroke-width="1"/>
<line x1="656.50" y1="94.00" x2="660.50" y2="94.00" stroke="#f24a4a" stroke-width="1"/>
<line x1="656.50" y1="144.80" x2="660.50" y2="144.80" stroke="#f24a4a" stroke-width="1"/>
<line x1="670.50" y1="80.50" x2="670.50" y2="128.80" stroke="#f24a4a" stroke-width="1"/>
<line x1="668.50" y1="80.50" x2="672.50" y2="80.50" stroke="#f24a4a" stroke-width="1"/>
<line x1="668.50" y1="128.80" x2="672.50" y2="128.80" stroke="#f24a4a" stroke-width="1"/>
<polyline points="480.50,109.00 492.50,111.90 504.50,114.90 516.50,119.50 529.50,121.80 541.50,118.60 553.50,110.70 565.50,108.40" fill="none" stroke="#ee2d2d" stroke-width="1.35"/>
<polyline points="565.50,108.40 584.50,115.00" fill="none" stroke="#ee2d2d" stroke-width="1.35"/>
<polyline points="584.50,115.00 597.50,102.50 609.50,108.60 621.50,110.90 633.50,115.80 645.50,107.00 658.50,118.60 670.50,103.70" fill="none" stroke="#ee2d2d" stroke-width="1.35"/>
<rect x="478.75" y="107.25" width="3.5" height="3.5" fill="#ee2a22" stroke="#6a1010" stroke-width="0.7"/>
<rect x="490.75" y="110.15" width="3.5" height="3.5" fill="#ee2a22" stroke="#6a1010" stroke-width="0.7"/>
<rect x="502.75" y="113.15" width="3.5" height="3.5" fill="#ee2a22" stroke="#6a1010" stroke-width="0.7"/>
<rect x="514.75" y="117.75" width="3.5" height="3.5" fill="#ee2a22" stroke="#6a1010" stroke-width="0.7"/>
<rect x="527.75" y="120.05" width="3.5" height="3.5" fill="#ee2a22" stroke="#6a1010" stroke-width="0.7"/>
<rect x="539.75" y="116.85" width="3.5" height="3.5" fill="#ee2a22" stroke="#6a1010" stroke-width="0.7"/>
<rect x="551.75" y="108.95" width="3.5" height="3.5" fill="#ee2a22" stroke="#6a1010" stroke-width="0.7"/>
<rect x="563.75" y="106.65" width="3.5" height="3.5" fill="#ee2a22" stroke="#6a1010" stroke-width="0.7"/>
<rect x="582.75" y="113.25" width="3.5" height="3.5" fill="#ee2a22" stroke="#6a1010" stroke-width="0.7"/>
<rect x="595.75" y="100.75" width="3.5" height="3.5" fill="#ee2a22" stroke="#6a1010" stroke-width="0.7"/>
<rect x="607.75" y="106.85" width="3.5" height="3.5" fill="#ee2a22" stroke="#6a1010" stroke-width="0.7"/>
<rect x="619.75" y="109.15" width="3.5" height="3.5" fill="#ee2a22" stroke="#6a1010" stroke-width="0.7"/>
<rect x="631.75" y="114.05" width="3.5" height="3.5" fill="#ee2a22" stroke="#6a1010" stroke-width="0.7"/>
<rect x="643.75" y="105.25" width="3.5" height="3.5" fill="#ee2a22" stroke="#6a1010" stroke-width="0.7"/>
<rect x="656.75" y="116.85" width="3.5" height="3.5" fill="#ee2a22" stroke="#6a1010" stroke-width="0.7"/>
<rect x="668.75" y="101.95" width="3.5" height="3.5" fill="#ee2a22" stroke="#6a1010" stroke-width="0.7"/>
<rect x="571.2" y="60.1" width="8" height="162.8" fill="#e0dce2" stroke="#111" stroke-width="1.5"/>
<text font-family="Liberation Sans, sans-serif" font-size="6.4" font-weight="bold" letter-spacing="1.3" stroke="none" transform="translate(578.2,110.6) rotate(-90)" text-anchor="middle">REVERSAL</text>
<line x1="475" y1="31.5" x2="672.5" y2="31.5" stroke="#888" stroke-width="1"/>
<line x1="672.5" y1="31.5" x2="672.5" y2="225.5" stroke="#9a9a9a" stroke-width="1.2"/>
<line x1="478" y1="31.5" x2="478" y2="211.8" stroke="#b8b8b8" stroke-width="2"/>
<line x1="478" y1="218" x2="478" y2="225.5" stroke="#b8b8b8" stroke-width="2"/>
<line x1="476" y1="218.3" x2="479.5" y2="218.3" stroke="#555" stroke-width="0.8"/>
<line x1="477" y1="225.5" x2="673" y2="225.5" stroke="#555" stroke-width="0.9"/>
<line x1="474.8" y1="31.60" x2="477.7" y2="31.60" stroke="#555" stroke-width="0.8"/>
<text transform="translate(475,33.90) scale(1,1.07)" font-family="Liberation Sans, sans-serif" font-size="6.4" text-anchor="end" fill="#000">0.70</text>
<line x1="476.2" y1="36.74" x2="477.7" y2="36.74" stroke="#555" stroke-width="0.8"/>
<line x1="476.2" y1="41.88" x2="477.7" y2="41.88" stroke="#555" stroke-width="0.8"/>
<line x1="476.2" y1="47.02" x2="477.7" y2="47.02" stroke="#555" stroke-width="0.8"/>
<line x1="476.2" y1="52.16" x2="477.7" y2="52.16" stroke="#555" stroke-width="0.8"/>
<line x1="474.8" y1="57.30" x2="477.7" y2="57.30" stroke="#555" stroke-width="0.8"/>
<text transform="translate(475,59.60) scale(1,1.07)" font-family="Liberation Sans, sans-serif" font-size="6.4" text-anchor="end" fill="#000">0.65</text>
<line x1="476.2" y1="62.44" x2="477.7" y2="62.44" stroke="#555" stroke-width="0.8"/>
<line x1="476.2" y1="67.58" x2="477.7" y2="67.58" stroke="#555" stroke-width="0.8"/>
<line x1="476.2" y1="72.72" x2="477.7" y2="72.72" stroke="#555" stroke-width="0.8"/>
<line x1="476.2" y1="77.86" x2="477.7" y2="77.86" stroke="#555" stroke-width="0.8"/>
<line x1="474.8" y1="83.00" x2="477.7" y2="83.00" stroke="#555" stroke-width="0.8"/>
<text transform="translate(475,85.30) scale(1,1.07)" font-family="Liberation Sans, sans-serif" font-size="6.4" text-anchor="end" fill="#000">0.60</text>
<line x1="476.2" y1="88.14" x2="477.7" y2="88.14" stroke="#555" stroke-width="0.8"/>
<line x1="476.2" y1="93.28" x2="477.7" y2="93.28" stroke="#555" stroke-width="0.8"/>
<line x1="476.2" y1="98.42" x2="477.7" y2="98.42" stroke="#555" stroke-width="0.8"/>
<line x1="476.2" y1="103.56" x2="477.7" y2="103.56" stroke="#555" stroke-width="0.8"/>
<line x1="474.8" y1="108.70" x2="477.7" y2="108.70" stroke="#555" stroke-width="0.8"/>
<text transform="translate(475,111.00) scale(1,1.07)" font-family="Liberation Sans, sans-serif" font-size="6.4" text-anchor="end" fill="#000">0.55</text>
<line x1="476.2" y1="113.84" x2="477.7" y2="113.84" stroke="#555" stroke-width="0.8"/>
<line x1="476.2" y1="118.98" x2="477.7" y2="118.98" stroke="#555" stroke-width="0.8"/>
<line x1="476.2" y1="124.12" x2="477.7" y2="124.12" stroke="#555" stroke-width="0.8"/>
<line x1="476.2" y1="129.26" x2="477.7" y2="129.26" stroke="#555" stroke-width="0.8"/>
<line x1="474.8" y1="134.40" x2="477.7" y2="134.40" stroke="#555" stroke-width="0.8"/>
<text transform="translate(475,136.70) scale(1,1.07)" font-family="Liberation Sans, sans-serif" font-size="6.4" text-anchor="end" fill="#000">0.50</text>
<line x1="476.2" y1="139.54" x2="477.7" y2="139.54" stroke="#555" stroke-width="0.8"/>
<line x1="476.2" y1="144.68" x2="477.7" y2="144.68" stroke="#555" stroke-width="0.8"/>
<line x1="476.2" y1="149.82" x2="477.7" y2="149.82" stroke="#555" stroke-width="0.8"/>
<line x1="476.2" y1="154.96" x2="477.7" y2="154.96" stroke="#555" stroke-width="0.8"/>
<line x1="474.8" y1="160.10" x2="477.7" y2="160.10" stroke="#555" stroke-width="0.8"/>
<text transform="translate(475,162.40) scale(1,1.07)" font-family="Liberation Sans, sans-serif" font-size="6.4" text-anchor="end" fill="#000">0.45</text>
<line x1="476.2" y1="165.24" x2="477.7" y2="165.24" stroke="#555" stroke-width="0.8"/>
<line x1="476.2" y1="170.38" x2="477.7" y2="170.38" stroke="#555" stroke-width="0.8"/>
<line x1="476.2" y1="175.52" x2="477.7" y2="175.52" stroke="#555" stroke-width="0.8"/>
<line x1="476.2" y1="180.66" x2="477.7" y2="180.66" stroke="#555" stroke-width="0.8"/>
<line x1="474.8" y1="185.80" x2="477.7" y2="185.80" stroke="#555" stroke-width="0.8"/>
<text transform="translate(475,188.10) scale(1,1.07)" font-family="Liberation Sans, sans-serif" font-size="6.4" text-anchor="end" fill="#000">0.40</text>
<line x1="476.2" y1="190.94" x2="477.7" y2="190.94" stroke="#555" stroke-width="0.8"/>
<line x1="476.2" y1="196.08" x2="477.7" y2="196.08" stroke="#555" stroke-width="0.8"/>
<line x1="476.2" y1="201.22" x2="477.7" y2="201.22" stroke="#555" stroke-width="0.8"/>
<line x1="476.2" y1="206.36" x2="477.7" y2="206.36" stroke="#555" stroke-width="0.8"/>
<line x1="474.8" y1="211.50" x2="477.7" y2="211.50" stroke="#555" stroke-width="0.8"/>
<text transform="translate(475,213.80) scale(1,1.07)" font-family="Liberation Sans, sans-serif" font-size="6.4" text-anchor="end" fill="#000">0.35</text>
<text transform="translate(475,227.80) scale(1,1.07)" font-family="Liberation Sans, sans-serif" font-size="6.4" text-anchor="end" fill="#000">0</text>
<line x1="480.50" y1="225.5" x2="480.50" y2="227.8" stroke="#555" stroke-width="0.8"/>
<text transform="translate(480.50,234.8) scale(1,1.07)" font-family="Liberation Sans, sans-serif" font-size="6.6" text-anchor="middle" fill="#000">1</text>
<line x1="492.50" y1="225.5" x2="492.50" y2="227.8" stroke="#555" stroke-width="0.8"/>
<text transform="translate(492.50,234.8) scale(1,1.07)" font-family="Liberation Sans, sans-serif" font-size="6.6" text-anchor="middle" fill="#000">2</text>
<line x1="504.50" y1="225.5" x2="504.50" y2="227.8" stroke="#555" stroke-width="0.8"/>
<text transform="translate(504.50,234.8) scale(1,1.07)" font-family="Liberation Sans, sans-serif" font-size="6.6" text-anchor="middle" fill="#000">3</text>
<line x1="516.50" y1="225.5" x2="516.50" y2="227.8" stroke="#555" stroke-width="0.8"/>
<text transform="translate(516.50,234.8) scale(1,1.07)" font-family="Liberation Sans, sans-serif" font-size="6.6" text-anchor="middle" fill="#000">4</text>
<line x1="529.50" y1="225.5" x2="529.50" y2="227.8" stroke="#555" stroke-width="0.8"/>
<text transform="translate(529.50,234.8) scale(1,1.07)" font-family="Liberation Sans, sans-serif" font-size="6.6" text-anchor="middle" fill="#000">5</text>
<line x1="541.50" y1="225.5" x2="541.50" y2="227.8" stroke="#555" stroke-width="0.8"/>
<text transform="translate(541.50,234.8) scale(1,1.07)" font-family="Liberation Sans, sans-serif" font-size="6.6" text-anchor="middle" fill="#000">6</text>
<line x1="553.50" y1="225.5" x2="553.50" y2="227.8" stroke="#555" stroke-width="0.8"/>
<text transform="translate(553.50,234.8) scale(1,1.07)" font-family="Liberation Sans, sans-serif" font-size="6.6" text-anchor="middle" fill="#000">7</text>
<line x1="565.50" y1="225.5" x2="565.50" y2="227.8" stroke="#555" stroke-width="0.8"/>
<text transform="translate(565.50,234.8) scale(1,1.07)" font-family="Liberation Sans, sans-serif" font-size="6.6" text-anchor="middle" fill="#000">8</text>
<line x1="584.50" y1="225.5" x2="584.50" y2="227.8" stroke="#555" stroke-width="0.8"/>
<text transform="translate(584.50,234.8) scale(1,1.07)" font-family="Liberation Sans, sans-serif" font-size="6.6" text-anchor="middle" fill="#000">10</text>
<line x1="597.50" y1="225.5" x2="597.50" y2="227.8" stroke="#555" stroke-width="0.8"/>
<text transform="translate(597.50,234.8) scale(1,1.07)" font-family="Liberation Sans, sans-serif" font-size="6.6" text-anchor="middle" fill="#000">11</text>
<line x1="609.50" y1="225.5" x2="609.50" y2="227.8" stroke="#555" stroke-width="0.8"/>
<text transform="translate(609.50,234.8) scale(1,1.07)" font-family="Liberation Sans, sans-serif" font-size="6.6" text-anchor="middle" fill="#000">12</text>
<line x1="621.50" y1="225.5" x2="621.50" y2="227.8" stroke="#555" stroke-width="0.8"/>
<text transform="translate(621.50,234.8) scale(1,1.07)" font-family="Liberation Sans, sans-serif" font-size="6.6" text-anchor="middle" fill="#000">13</text>
<line x1="633.50" y1="225.5" x2="633.50" y2="227.8" stroke="#555" stroke-width="0.8"/>
<text transform="translate(633.50,234.8) scale(1,1.07)" font-family="Liberation Sans, sans-serif" font-size="6.6" text-anchor="middle" fill="#000">14</text>
<line x1="645.50" y1="225.5" x2="645.50" y2="227.8" stroke="#555" stroke-width="0.8"/>
<text transform="translate(645.50,234.8) scale(1,1.07)" font-family="Liberation Sans, sans-serif" font-size="6.6" text-anchor="middle" fill="#000">15</text>
<line x1="658.50" y1="225.5" x2="658.50" y2="227.8" stroke="#555" stroke-width="0.8"/>
<text transform="translate(658.50,234.8) scale(1,1.07)" font-family="Liberation Sans, sans-serif" font-size="6.6" text-anchor="middle" fill="#000">16</text>
<line x1="670.50" y1="225.5" x2="670.50" y2="227.8" stroke="#555" stroke-width="0.8"/>
<text transform="translate(670.50,234.8) scale(1,1.07)" font-family="Liberation Sans, sans-serif" font-size="6.6" text-anchor="middle" fill="#000">17</text>
<line x1="570.9" y1="225.5" x2="570.9" y2="227.8" stroke="#555" stroke-width="0.8"/>
<line x1="579.6" y1="225.5" x2="579.6" y2="227.8" stroke="#555" stroke-width="0.8"/>
<text transform="translate(565.2,243.7) scale(1,1.07)" font-family="Liberation Sans, sans-serif" font-size="5.5" fill="#000">Trial no.</text>
<text font-family="Liberation Sans, sans-serif" font-size="8" transform="translate(457.2,127.6) rotate(-90)" text-anchor="middle" fill="#000">α</text>
<text transform="translate(441.4,21.9) scale(1,1.07)" font-family="Liberation Sans, sans-serif" font-size="14" fill="#000">B</text>
<polyline points="480.5,54.4 480.5,46.4 564.9,46.4 564.9,54.4" fill="none" stroke="#555" stroke-width="0.9"/>
<text transform="translate(480.4,43.2) scale(1,1.07)" font-family="Liberation Sans, sans-serif" font-size="5.7" fill="#000">group*time <tspan font-style="italic">p</tspan>=.02</text>
<polyline points="482.8,167.2 482.8,175.3 668.4,175.3 668.4,167.2" fill="none" stroke="#555" stroke-width="0.9"/>
<text transform="translate(483.9,183.3) scale(1,1.07)" font-family="Liberation Sans, sans-serif" font-size="5.7" fill="#000">group*time <tspan font-style="italic">p</tspan>=.05</text>
<line x1="482" y1="204.7" x2="492.7" y2="204.7" stroke="#72dc72" stroke-width="1.2"/>
<rect x="486.10" y="203.10" width="3.2" height="3.2" fill="#5cc86a" stroke="#444" stroke-width="0.6"/>
<text transform="translate(496.8,207.10) scale(1,1.07)" font-family="Liberation Sans, sans-serif" font-size="6.8" fill="#000">HV</text>
<line x1="482" y1="212.5" x2="492.7" y2="212.5" stroke="#3552e6" stroke-width="1.2"/>
<rect x="486.10" y="210.90" width="3.2" height="3.2" fill="#3a55e8" stroke="#444" stroke-width="0.6"/>
<text transform="translate(496.8,214.90) scale(1,1.07)" font-family="Liberation Sans, sans-serif" font-size="6.8" fill="#000">low avo</text>
<line x1="482" y1="220.4" x2="492.7" y2="220.4" stroke="#ee2d2d" stroke-width="1.2"/>
<rect x="486.10" y="218.80" width="3.2" height="3.2" fill="#ee2a22" stroke="#444" stroke-width="0.6"/>
<text transform="translate(496.8,222.80) scale(1,1.07)" font-family="Liberation Sans, sans-serif" font-size="6.8" fill="#000">high avo</text>
<text transform="translate(441.4,248.8) scale(1,1.07)" font-family="Liberation Sans, sans-serif" font-size="14" fill="#000">C</text>
<line x1="477.7" y1="248.5" x2="568.5" y2="248.5" stroke="#888" stroke-width="1"/>
<line x1="568.5" y1="248.5" x2="568.5" y2="411.5" stroke="#555" stroke-width="1"/>
<line x1="478" y1="248.5" x2="478" y2="411.5" stroke="#b8b8b8" stroke-width="2"/>
<line x1="477" y1="411.3" x2="569" y2="411.3" stroke="#444" stroke-width="1"/>
<line x1="474.8" y1="263.40" x2="477.7" y2="263.40" stroke="#444" stroke-width="0.8"/>
<text transform="translate(475.3,265.80) scale(1,1.07)" font-family="Liberation Sans, sans-serif" font-size="6.6" text-anchor="end" fill="#000">0.3</text>
<line x1="476.3" y1="278.25" x2="477.7" y2="278.25" stroke="#444" stroke-width="0.8"/>
<line x1="474.8" y1="293.10" x2="477.7" y2="293.10" stroke="#444" stroke-width="0.8"/>
<text transform="translate(475.3,295.50) scale(1,1.07)" font-family="Liberation Sans, sans-serif" font-size="6.6" text-anchor="end" fill="#000">0.2</text>
<line x1="476.3" y1="307.95" x2="477.7" y2="307.95" stroke="#444" stroke-width="0.8"/>
<line x1="474.8" y1="322.80" x2="477.7" y2="322.80" stroke="#444" stroke-width="0.8"/>
<text transform="translate(475.3,325.20) scale(1,1.07)" font-family="Liberation Sans, sans-serif" font-size="6.6" text-anchor="end" fill="#000">0.1</text>
<line x1="476.3" y1="337.65" x2="477.7" y2="337.65" stroke="#444" stroke-width="0.8"/>
<line x1="474.8" y1="352.50" x2="477.7" y2="352.50" stroke="#444" stroke-width="0.8"/>
<text transform="translate(475.3,354.90) scale(1,1.07)" font-family="Liberation Sans, sans-serif" font-size="6.6" text-anchor="end" fill="#000">0.0</text>
<line x1="476.3" y1="367.35" x2="477.7" y2="367.35" stroke="#444" stroke-width="0.8"/>
<line x1="474.8" y1="382.20" x2="477.7" y2="382.20" stroke="#444" stroke-width="0.8"/>
<text transform="translate(475.3,384.60) scale(1,1.07)" font-family="Liberation Sans, sans-serif" font-size="6.6" text-anchor="end" fill="#000">-0.1</text>
<line x1="476.3" y1="397.05" x2="477.7" y2="397.05" stroke="#444" stroke-width="0.8"/>
<line x1="474.8" y1="411.90" x2="477.7" y2="411.90" stroke="#444" stroke-width="0.8"/>
<text transform="translate(475.3,414.30) scale(1,1.07)" font-family="Liberation Sans, sans-serif" font-size="6.6" text-anchor="end" fill="#000">-0.2</text>
<line x1="477.7" y1="352.5" x2="568.5" y2="352.5" stroke="#aaa" stroke-width="0.8" stroke-dasharray="2 1.5"/>
<line x1="494.7" y1="258" x2="553" y2="258" stroke="#aaa" stroke-width="1.5"/>
<text transform="translate(522.4,255) scale(1,1.07)" font-family="Liberation Sans, sans-serif" font-size="5.5" text-anchor="middle" fill="#000" stroke="none">*</text>
<text font-family="Liberation Sans, sans-serif" font-size="6.3" transform="translate(456.6,328.4) rotate(-90)" text-anchor="middle" fill="#000">α(post2-8) - α(pre1)</text>
<line x1="494" y1="312.4" x2="494" y2="339.4" stroke="#111" stroke-width="1.6"/>
<line x1="488.9" y1="312.4" x2="499.1" y2="312.4" stroke="#111" stroke-width="1.6"/>
<line x1="488.9" y1="339.4" x2="499.1" y2="339.4" stroke="#111" stroke-width="1.6"/>
<line x1="483.7" y1="325.9" x2="504.3" y2="325.9" stroke="#111" stroke-width="1.8"/>
<line x1="520.5" y1="327.3" x2="520.5" y2="369.1" stroke="#111" stroke-width="1.6"/>
<line x1="515.4" y1="327.3" x2="525.6" y2="327.3" stroke="#111" stroke-width="1.6"/>
<line x1="515.4" y1="369.1" x2="525.6" y2="369.1" stroke="#111" stroke-width="1.6"/>
<line x1="510.2" y1="348.3" x2="530.8" y2="348.3" stroke="#111" stroke-width="1.8"/>
<line x1="552.2" y1="342.4" x2="552.2" y2="364" stroke="#111" stroke-width="1.6"/>
<line x1="547.1" y1="342.4" x2="557.3000000000001" y2="342.4" stroke="#111" stroke-width="1.6"/>
<line x1="547.1" y1="364" x2="557.3000000000001" y2="364" stroke="#111" stroke-width="1.6"/>
<line x1="541.9000000000001" y1="353.1" x2="562.5" y2="353.1" stroke="#111" stroke-width="1.8"/>
<rect x="486.55" y="267.45" width="3.7" height="3.7" fill="#66e272" stroke="#334" stroke-width="0.7"/>
<rect x="492.15" y="270.55" width="3.7" height="3.7" fill="#66e272" stroke="#334" stroke-width="0.7"/>
<rect x="486.55" y="285.15" width="3.7" height="3.7" fill="#66e272" stroke="#334" stroke-width="0.7"/>
<rect x="492.15" y="288.35" width="3.7" height="3.7" fill="#66e272" stroke="#334" stroke-width="0.7"/>
<rect x="497.55" y="285.15" width="3.7" height="3.7" fill="#66e272" stroke="#334" stroke-width="0.7"/>
<rect x="492.15" y="297.05" width="3.7" height="3.7" fill="#66e272" stroke="#334" stroke-width="0.7"/>
<rect x="497.55" y="300.05" width="3.7" height="3.7" fill="#66e272" stroke="#334" stroke-width="0.7"/>
<rect x="492.15" y="303.15" width="3.7" height="3.7" fill="#66e272" stroke="#334" stroke-width="0.7"/>
<rect x="492.15" y="308.95" width="3.7" height="3.7" fill="#66e272" stroke="#334" stroke-width="0.7"/>
<rect x="492.15" y="320.65" width="3.7" height="3.7" fill="#66e272" stroke="#334" stroke-width="0.7"/>
<rect x="486.35" y="335.55" width="3.7" height="3.7" fill="#66e272" stroke="#334" stroke-width="0.7"/>
<rect x="492.15" y="338.65" width="3.7" height="3.7" fill="#66e272" stroke="#334" stroke-width="0.7"/>
<rect x="497.55" y="335.55" width="3.7" height="3.7" fill="#66e272" stroke="#334" stroke-width="0.7"/>
<rect x="483.45" y="350.35" width="3.7" height="3.7" fill="#66e272" stroke="#334" stroke-width="0.7"/>
<rect x="492.15" y="347.35" width="3.7" height="3.7" fill="#66e272" stroke="#334" stroke-width="0.7"/>
<rect x="497.55" y="347.35" width="3.7" height="3.7" fill="#66e272" stroke="#334" stroke-width="0.7"/>
<rect x="494.65" y="350.35" width="3.7" height="3.7" fill="#66e272" stroke="#334" stroke-width="0.7"/>
<rect x="500.45" y="350.35" width="3.7" height="3.7" fill="#66e272" stroke="#334" stroke-width="0.7"/>
<rect x="486.35" y="353.25" width="3.7" height="3.7" fill="#66e272" stroke="#334" stroke-width="0.7"/>
<rect x="489.95" y="353.25" width="3.7" height="3.7" fill="#66e272" stroke="#334" stroke-width="0.7"/>
<rect x="492.15" y="353.25" width="3.7" height="3.7" fill="#66e272" stroke="#334" stroke-width="0.7"/>
<rect x="497.55" y="353.25" width="3.7" height="3.7" fill="#66e272" stroke="#334" stroke-width="0.7"/>
<rect x="492.15" y="358.95" width="3.7" height="3.7" fill="#66e272" stroke="#334" stroke-width="0.7"/>
<rect x="518.75" y="273.05" width="3.7" height="3.7" fill="#3a5cf0" stroke="#334" stroke-width="0.7"/>
<rect x="518.75" y="291.05" width="3.7" height="3.7" fill="#3a5cf0" stroke="#334" stroke-width="0.7"/>
<rect x="518.55" y="320.95" width="3.7" height="3.7" fill="#3a5cf0" stroke="#334" stroke-width="0.7"/>
<rect x="518.55" y="338.55" width="3.7" height="3.7" fill="#3a5cf0" stroke="#334" stroke-width="0.7"/>
<rect x="515.65" y="350.25" width="3.7" height="3.7" fill="#3a5cf0" stroke="#334" stroke-width="0.7"/>
<rect x="521.05" y="350.25" width="3.7" height="3.7" fill="#3a5cf0" stroke="#334" stroke-width="0.7"/>
<rect x="524.05" y="350.25" width="3.7" height="3.7" fill="#3a5cf0" stroke="#334" stroke-width="0.7"/>
<rect x="512.95" y="353.35" width="3.7" height="3.7" fill="#3a5cf0" stroke="#334" stroke-width="0.7"/>
<rect x="518.65" y="353.55" width="3.7" height="3.7" fill="#3a5cf0" stroke="#334" stroke-width="0.7"/>
<rect x="518.55" y="361.85" width="3.7" height="3.7" fill="#3a5cf0" stroke="#334" stroke-width="0.7"/>
<rect x="518.75" y="373.85" width="3.7" height="3.7" fill="#3a5cf0" stroke="#334" stroke-width="0.7"/>
<rect x="518.45" y="391.75" width="3.7" height="3.7" fill="#3a5cf0" stroke="#334" stroke-width="0.7"/>
<rect x="524.15" y="391.75" width="3.7" height="3.7" fill="#3a5cf0" stroke="#334" stroke-width="0.7"/>
<rect x="550.35" y="303.15" width="3.7" height="3.7" fill="#f02a1e" stroke="#334" stroke-width="0.7"/>
<rect x="550.25" y="341.55" width="3.7" height="3.7" fill="#f02a1e" stroke="#334" stroke-width="0.7"/>
<rect x="555.85" y="341.55" width="3.7" height="3.7" fill="#f02a1e" stroke="#334" stroke-width="0.7"/>
<rect x="555.85" y="347.35" width="3.7" height="3.7" fill="#f02a1e" stroke="#334" stroke-width="0.7"/>
<rect x="544.85" y="350.15" width="3.7" height="3.7" fill="#f02a1e" stroke="#334" stroke-width="0.7"/>
<rect x="550.25" y="350.15" width="3.7" height="3.7" fill="#f02a1e" stroke="#334" stroke-width="0.7"/>
<rect x="544.85" y="353.35" width="3.7" height="3.7" fill="#f02a1e" stroke="#334" stroke-width="0.7"/>
<rect x="553.15" y="353.15" width="3.7" height="3.7" fill="#f02a1e" stroke="#334" stroke-width="0.7"/>
<rect x="550.25" y="356.45" width="3.7" height="3.7" fill="#f02a1e" stroke="#334" stroke-width="0.7"/>
<rect x="555.85" y="356.45" width="3.7" height="3.7" fill="#f02a1e" stroke="#334" stroke-width="0.7"/>
<rect x="550.35" y="364.25" width="3.7" height="3.7" fill="#f02a1e" stroke="#334" stroke-width="0.7"/>
<rect x="550.35" y="373.85" width="3.7" height="3.7" fill="#f02a1e" stroke="#334" stroke-width="0.7"/>
<rect x="555.95" y="373.85" width="3.7" height="3.7" fill="#f02a1e" stroke="#334" stroke-width="0.7"/>
<rect x="0" y="0" width="685" height="1" fill="#b0b0b0"/>
<rect x="0" y="1" width="685" height="1" fill="#8e8e8e"/>
<rect x="0" y="0" width="1" height="445" fill="#bcbcbc"/>
<rect x="1" y="1" width="1" height="443" fill="#979797"/>
<rect x="683" y="1" width="1" height="443" fill="#505050"/>
<rect x="684" y="0" width="1" height="445" fill="#eeeeee"/>
<rect x="1" y="443" width="683" height="1" fill="#5a5a5a"/>
<rect x="0" y="444" width="685" height="1" fill="#dddddd"/>
</svg>
</body></html>
